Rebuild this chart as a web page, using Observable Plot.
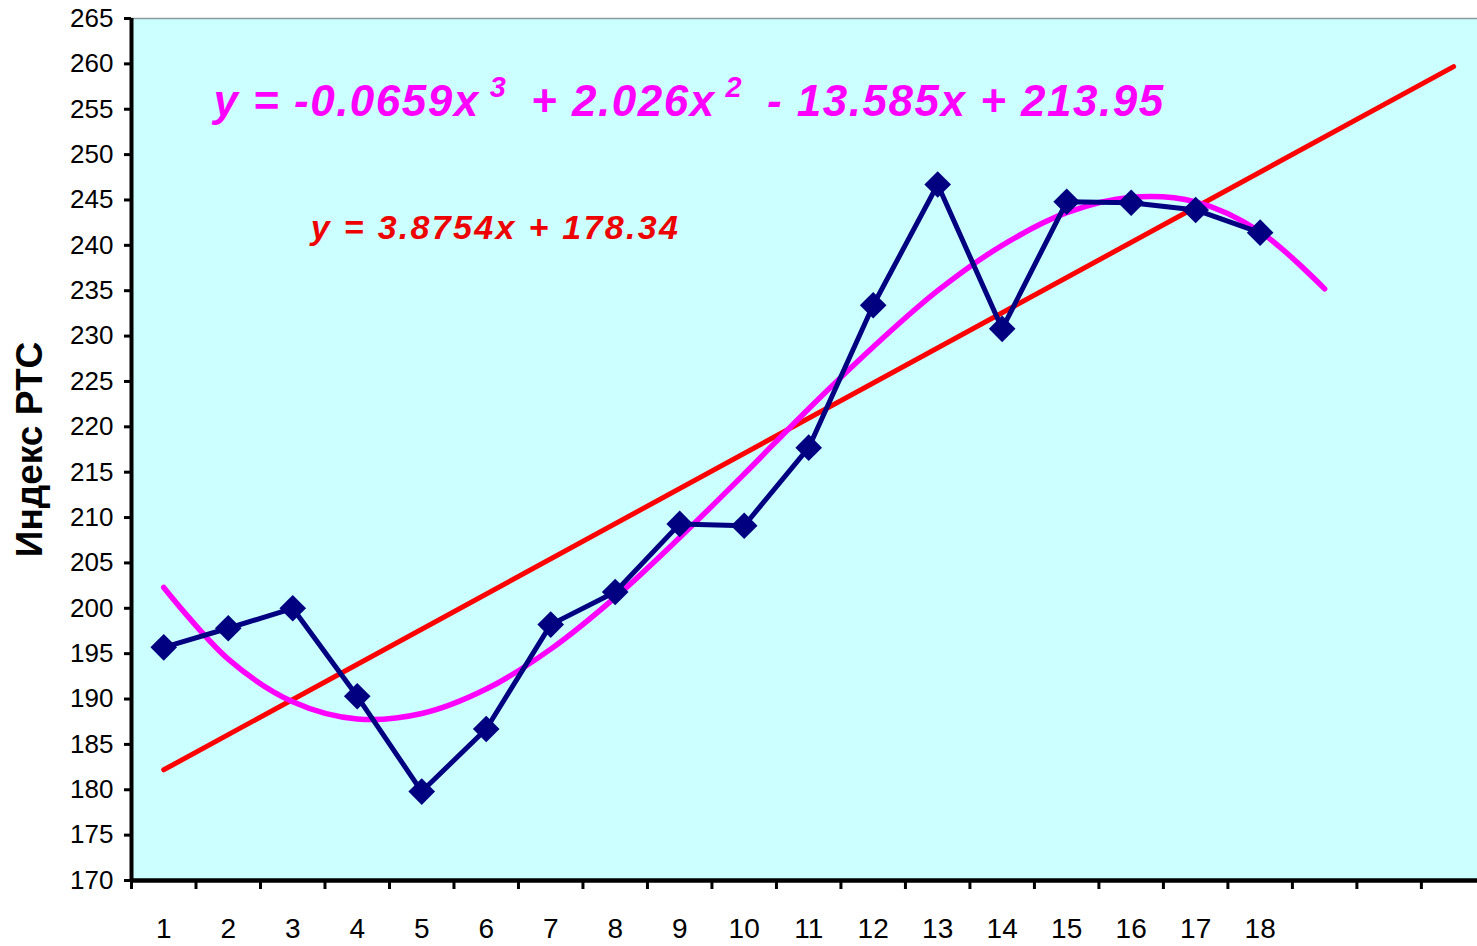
<!DOCTYPE html>
<html>
<head>
<meta charset="utf-8">
<script src="https://cdn.jsdelivr.net/npm/d3@7"></script>
<script src="https://cdn.jsdelivr.net/npm/@observablehq/plot@0.6"></script>
<style>
  html, body { margin: 0; padding: 0; background: #ffffff; }
  #chart svg { display: block; overflow: visible; }
</style>
</head>
<body>
<div id="chart"></div>
<script>
// ---- data ----
const periods = [1, 2, 3, 4, 5, 6, 7, 8, 9, 10, 11, 12, 13, 14, 15, 16, 17, 18];
const rtsIndex = [195.7, 197.8, 200.0, 190.3, 179.8, 186.7, 198.2, 201.8, 209.3, 209.1,
                  217.7, 233.4, 246.7, 230.8, 244.8, 244.7, 243.9, 241.4];

// linear trend line (red), endpoints
const linearTrendX = [1, 21];
const linearTrendY = [182.2, 259.7];

// cubic trend curve (magenta), values read at each period
const cubicTrendX = [1, 2, 3, 4, 5, 6, 7, 8, 9, 10, 11, 12, 13, 14, 15, 16, 17, 18, 19];
const cubicTrendY = [202.3, 194.4, 189.7, 187.8, 188.4, 191.1, 195.5, 201.2, 207.8, 214.8,
                     222.0, 228.8, 235.0, 240.0, 243.6, 245.3, 244.8, 241.5, 235.2];

const xTickLabels = ["1","2","3","4","5","6","7","8","9","10","11","12","13","14","15","16","17","18"];
const xTickBoundaries = [0.5,1.5,2.5,3.5,4.5,5.5,6.5,7.5,8.5,9.5,10.5,11.5,12.5,13.5,14.5,15.5,16.5,17.5,18.5,19.5,20.5];
const yTicks = [170,175,180,185,190,195,200,205,210,215,220,225,230,235,240,245,250,255,260,265];

const yTitle = "Индекс РТС";
const cubicEquation = ["y = -0.0659x", "3", " + 2.026x", "2", " - 13.585x + 213.95"];
const linearEquation = "y = 3.8754x + 178.34";

const series = periods.map((p, i) => ({x: p, y: rtsIndex[i]}));
const linear = linearTrendX.map((x, i) => ({x, y: linearTrendY[i]}));
const cubic = cubicTrendX.map((x, i) => ({x, y: cubicTrendY[i]}));

const font = "'Liberation Sans', Arial, sans-serif";

const chart = Plot.plot({
  width: 1477,
  height: 946,
  marginLeft: 131,
  marginRight: 0,
  marginTop: 18,
  marginBottom: 66,
  style: {fontFamily: font, background: "#ffffff", color: "#000"},
  x: {domain: [0.5, 21.37], axis: null},
  y: {domain: [170, 265], axis: null},
  marks: [
    Plot.frame({fill: "#ccffff", stroke: null}),
    Plot.ruleY([265], {stroke: "#8a9a9a", strokeWidth: 1.5}),
    // fitted lines
    Plot.line(linear, {x: "x", y: "y", stroke: "#ff0000", strokeWidth: 5}),
    Plot.line(cubic, {x: "x", y: "y", stroke: "#ff00ff", strokeWidth: 5.5, curve: "catmull-rom"}),
    // data
    Plot.line(series, {x: "x", y: "y", stroke: "#000080", strokeWidth: 5}),
    Plot.dot(series, {x: "x", y: "y", symbol: "diamond2", r: 12, fill: "#000080", stroke: "none"}),
    // axes
    Plot.axisY({ticks: yTicks, label: null, tickSize: 7, tickPadding: 11, strokeWidth: 3, fontSize: 26, tickFormat: d => String(d)}),
    Plot.axisX({ticks: xTickBoundaries, label: null, tickSize: 9, strokeWidth: 3, tickFormat: () => ""}),
    Plot.ruleX([0.5], {stroke: "#000", strokeWidth: 4}),
    Plot.ruleY([170], {stroke: "#000", strokeWidth: 4.5}),
    Plot.text(xTickLabels, {x: d => +d, text: d => d, frameAnchor: "bottom", dy: 57, fontSize: 28, fill: "#000"}),
    // y title
    Plot.text([yTitle], {frameAnchor: "left", textAnchor: "middle", dx: -101, rotate: -90, fontSize: 37, fontWeight: "bold", fill: "#000"}),
    // equations
    Plot.text([cubicEquation.join("")], {x: [1.77], y: [254.3], text: d => d, textAnchor: "start", lineAnchor: "bottom",
      fontSize: 44, fontWeight: "bold", fontStyle: "italic", fill: "#ff00ff"}),
    Plot.text([linearEquation], {x: [3.28], y: [240.7], text: d => d, textAnchor: "start", lineAnchor: "bottom",
      fontSize: 34, fontWeight: "bold", fontStyle: "italic", fill: "#ee0000"})
  ]
});

document.getElementById("chart").appendChild(chart);

// letter spacing and superscripts for the equations
d3.select(chart).selectAll("text").each(function () {
  const el = d3.select(this);
  const s = this.textContent;
  if (s === linearEquation) {
    el.style("letter-spacing", "2.3px");
  } else if (s === cubicEquation.join("")) {
    el.style("letter-spacing", "1.5px");
    el.text(null);
    cubicEquation.forEach((part, i) => {
      const ts = el.append("tspan").text(part);
      if (i === 1 || i === 3) ts.attr("dx", 10).attr("dy", -19).attr("font-size", 29);
      if (i === 2 || i === 4) ts.attr("dy", 19).attr("dx", 10);
    });
  }
});
</script>
</body>
</html>
